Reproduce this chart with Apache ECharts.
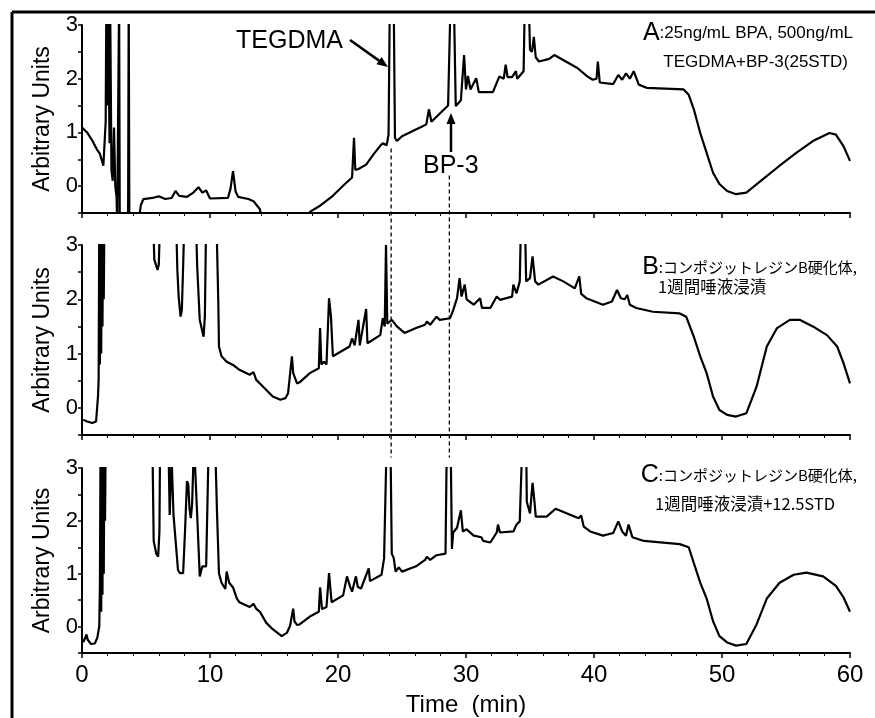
<!DOCTYPE html>
<html lang="ja">
<head>
<meta charset="UTF-8">
<title>Chromatogram</title>
<script src="https://cdn.jsdelivr.net/npm/echarts@6/dist/echarts.min.js"></script>
<style>
    html, body { margin: 0; padding: 0; background: #fff; }
    #chart { width: 875px; height: 718px; }
</style>
</head>
<body>
<div id="chart"></div>
<script>
    // [time (min), signal]
    var traceA = [[0,1.09],[0.4,1.0],[0.8,0.85],[1.15,0.69],[1.4,0.6],[1.67,0.38],[1.8,0.35],[1.85,1.2],[1.9,3.4],[2.0,1.5],[2.05,3.4],[2.15,0.8],[2.2,3.4],[2.3,0.3],[2.4,0.1],[2.5,1.09],[2.6,0.0],[2.7,-0.2],[2.75,-0.7],[2.85,-0.7],[2.9,3.5],[2.95,-0.7],[3.6,-0.7],[3.65,3.5],[3.7,-0.7],[4.4,-0.7],[4.6,-0.35],[4.8,-0.24],[5.5,-0.22],[6.0,-0.19],[6.5,-0.24],[7.0,-0.22],[7.3,-0.09],[7.6,-0.18],[8.2,-0.2],[8.7,-0.12],[9.1,-0.02],[9.4,-0.12],[9.7,-0.08],[10.0,-0.23],[11.4,-0.22],[11.6,-0.05],[11.8,0.28],[12.0,-0.1],[12.2,-0.2],[13.0,-0.24],[13.4,-0.28],[13.9,-0.43],[14.1,-0.7],[17.6,-0.7],[17.8,-0.48],[18.5,-0.38],[19.6,-0.18],[20.5,0.03],[21.1,0.16],[21.25,0.9],[21.35,0.3],[21.6,0.32],[22.2,0.4],[22.8,0.6],[23.3,0.75],[23.5,0.8],[23.8,0.76],[23.95,0.96],[24.05,3.5],[24.35,3.5],[24.45,0.9],[24.6,0.84],[25.0,0.93],[25.8,1.02],[26.5,1.1],[26.9,1.15],[27.1,1.43],[27.3,1.2],[28.3,1.43],[28.6,1.5],[28.8,3.5],[29.05,3.5],[29.2,1.49],[29.6,1.6],[29.85,2.44],[30.0,1.8],[30.15,2.05],[30.35,1.8],[30.8,2.01],[31.0,1.75],[32.1,1.75],[32.6,2.04],[32.95,2.0],[33.1,2.26],[33.25,2.03],[33.6,2.03],[33.9,2.14],[34.0,2.0],[34.5,2.14],[34.6,3.5],[34.9,3.5],[35.0,2.54],[35.15,2.5],[35.3,2.78],[35.45,2.4],[35.7,2.32],[36.5,2.37],[36.9,2.44],[37.8,2.32],[38.7,2.2],[39.5,2.04],[39.9,1.98],[40.2,2.0],[40.3,2.32],[40.45,1.93],[41.5,1.9],[41.9,2.07],[42.2,1.98],[42.5,2.1],[42.8,2.0],[43.1,2.14],[43.5,1.89],[44.1,1.83],[47.0,1.8],[47.4,1.7],[47.8,1.43],[48.3,0.99],[48.8,0.62],[49.3,0.25],[49.8,0.04],[50.4,-0.09],[51.1,-0.15],[51.9,-0.12],[53.2,0.13],[54.5,0.38],[55.8,0.62],[57.1,0.84],[58.4,0.99],[58.9,0.96],[59.5,0.74],[60,0.47]];

    var traceB = [[0.1,-0.22],[0.4,-0.25],[0.8,-0.28],[1.1,-0.25],[1.15,-0.22],[1.25,0.21],[1.3,0.52],[1.35,3.5],[1.4,0.8],[1.45,3.5],[1.5,1.0],[1.55,3.5],[1.6,1.5],[1.65,3.5],[1.7,2.0],[1.75,3.5],[5.55,3.5],[5.65,2.73],[5.9,2.54],[6.0,2.64],[6.1,3.5],[7.35,3.5],[7.45,2.54],[7.55,2.05],[7.7,1.68],[7.8,1.8],[7.9,2.6],[8.0,3.5],[8.9,3.5],[9.0,2.6],[9.2,1.62],[9.5,1.31],[9.6,1.7],[9.7,3.5],[10.5,3.5],[10.65,1.93],[10.7,1.13],[10.9,0.95],[11.3,0.85],[11.8,0.79],[12.3,0.7],[13.1,0.61],[13.4,0.66],[13.6,0.52],[13.9,0.45],[14.4,0.33],[14.9,0.21],[15.5,0.15],[15.9,0.18],[16.1,0.27],[16.4,0.95],[16.5,0.64],[16.8,0.45],[17.0,0.47],[17.8,0.64],[18.5,0.73],[18.6,1.47],[18.7,0.8],[18.9,0.85],[19.1,0.8],[19.3,2.02],[19.45,1.68],[19.6,0.95],[20.9,1.13],[21.1,1.28],[21.3,1.15],[21.6,1.62],[21.7,1.15],[22.2,1.82],[22.3,1.19],[23.3,1.34],[23.5,1.65],[23.65,1.5],[23.75,3.0],[23.85,1.55],[24.2,1.62],[24.6,1.5],[25.2,1.38],[26.1,1.47],[26.8,1.53],[26.95,1.59],[27.2,1.53],[27.7,1.68],[27.95,1.62],[28.75,1.65],[29.0,1.8],[29.3,2.02],[29.5,2.39],[29.65,2.05],[29.9,2.27],[30.05,2.0],[30.6,1.9],[31.1,2.02],[31.25,1.84],[31.9,1.84],[32.4,2.05],[32.65,1.99],[33.6,2.05],[33.7,2.27],[33.95,2.11],[34.2,2.33],[34.3,3.5],[34.6,3.5],[34.7,2.33],[35.0,2.39],[35.2,2.79],[35.4,2.33],[35.65,2.27],[36.8,2.42],[37.6,2.33],[38.5,2.2],[38.85,2.42],[39.0,2.1],[39.4,2.02],[40.7,1.9],[41.4,1.96],[41.8,2.17],[42.1,2.02],[42.4,2.0],[42.6,2.08],[42.8,1.9],[43.3,1.84],[44.6,1.77],[46.7,1.74],[47.2,1.68],[47.8,1.31],[48.3,0.95],[48.8,0.64],[49.3,0.21],[49.8,-0.04],[50.4,-0.13],[51.1,-0.16],[51.9,-0.1],[52.7,0.39],[53.5,1.13],[54.3,1.47],[55.3,1.62],[56.1,1.62],[57.1,1.5],[58.2,1.34],[59.0,1.13],[59.5,0.82],[60,0.45]];

    var traceC = [[0.1,-0.3],[0.35,-0.15],[0.45,-0.25],[0.7,-0.33],[1.0,-0.32],[1.2,-0.21],[1.35,0.01],[1.4,0.8],[1.45,3.5],[1.5,0.28],[1.55,3.5],[1.6,0.6],[1.65,3.5],[1.7,1.0],[1.75,3.5],[1.8,2.0],[1.85,3.5],[5.5,3.5],[5.6,1.62],[5.8,1.38],[5.95,1.32],[6.05,1.8],[6.1,3.5],[6.75,3.5],[6.85,2.11],[7.0,3.2],[7.15,2.11],[7.5,1.07],[7.65,1.01],[7.9,1.01],[8.05,1.81],[8.2,2.75],[8.3,2.7],[8.4,2.23],[8.5,2.05],[8.6,2.3],[8.75,3.5],[8.9,3.5],[9.0,2.1],[9.2,0.95],[9.3,0.93],[9.4,1.14],[9.7,1.14],[9.9,3.5],[10.4,3.5],[10.55,2.14],[10.7,1.01],[10.9,0.83],[11.2,0.71],[11.3,1.04],[11.5,0.83],[11.8,0.74],[12.1,0.53],[12.3,0.46],[13.1,0.37],[13.4,0.43],[13.6,0.34],[13.9,0.28],[14.4,0.07],[14.9,-0.05],[15.6,-0.18],[16.0,-0.12],[16.25,0.01],[16.5,0.34],[16.6,0.1],[16.8,0.03],[17.0,0.04],[17.8,0.19],[18.5,0.28],[18.6,0.74],[18.75,0.33],[19.1,0.37],[19.3,1.01],[19.4,0.98],[19.5,0.46],[20.4,0.59],[20.7,0.95],[20.95,0.75],[21.1,0.66],[21.4,0.95],[21.55,0.75],[21.8,0.72],[22.4,1.1],[22.5,0.86],[23.4,0.98],[23.6,1.29],[23.8,3.5],[24.1,3.5],[24.2,1.38],[24.35,1.3],[24.5,1.04],[24.75,1.12],[25.0,1.04],[26.1,1.14],[26.8,1.26],[26.95,1.32],[27.2,1.26],[27.7,1.35],[28.4,1.38],[28.5,3.5],[28.8,3.5],[28.9,1.47],[29.0,1.78],[29.15,1.75],[29.3,1.87],[29.6,2.2],[29.75,1.8],[30.05,1.84],[30.6,1.72],[31.2,1.69],[31.35,1.62],[31.9,1.59],[32.4,1.78],[32.5,1.93],[32.65,1.78],[33.7,1.8],[33.95,1.93],[34.2,1.99],[34.4,3.5],[34.7,3.5],[34.75,2.36],[35.0,2.14],[35.2,2.72],[35.35,2.36],[35.45,2.08],[36.3,2.08],[37.0,2.23],[37.9,2.14],[38.8,2.05],[39.0,2.1],[39.2,1.89],[39.7,1.8],[40.7,1.72],[41.5,1.77],[41.9,1.99],[42.2,1.8],[42.5,1.72],[42.7,1.93],[43.0,1.69],[43.9,1.62],[46.7,1.56],[47.4,1.5],[47.8,1.2],[48.3,0.83],[48.8,0.53],[49.3,0.1],[49.8,-0.18],[50.4,-0.3],[51.1,-0.36],[51.9,-0.33],[52.7,0.04],[53.5,0.53],[54.5,0.83],[55.6,0.98],[56.6,1.02],[57.9,0.95],[58.9,0.77],[59.5,0.55],[60,0.28]];

    var traces = [traceA, traceB, traceC];
    var yLabels = [0, 1, 2, 3];
    var xLabels = [0, 10, 20, 30, 40, 50, 60];
    var markTimes = [24.15, 28.7];   // TEGDMA, BP-3 retention times

    var FONT = '"Liberation Sans", Arial, sans-serif';
    var JFONT = '"Noto Sans CJK JP", "Liberation Sans", sans-serif';

    var chart = echarts.init(document.getElementById('chart'));

    var gridTops = [25, 245, 468];
    var gridH = [188, 190, 191];

    var grids = [], xAxes = [], yAxes = [], series = [];
    for (var i = 0; i < 3; i++) {
        grids.push({left: 82, right: 25, top: gridTops[i], height: gridH[i]});
        xAxes.push({
            gridIndex: i, type: 'value', min: 0, max: 60, interval: 10,
            axisLine: {onZero: false, lineStyle: {color: '#000', width: 2}},
            axisTick: {length: 5, lineStyle: {color: '#000', width: 1.5}},
            minorTick: {show: true, splitNumber: 5, length: 3, lineStyle: {color: '#000', width: 1}},
            splitLine: {show: false},
            axisLabel: {
                show: i === 2, color: '#000', fontSize: 24, fontFamily: FONT, margin: 10,
                formatter: function (v) { return xLabels.indexOf(v) >= 0 ? String(v) : ''; }
            },
            name: i === 2 ? 'Time  (min)' : '',
            nameLocation: 'middle', nameGap: 40,
            nameTextStyle: {color: '#000', fontSize: 24, fontFamily: FONT}
        });
        yAxes.push({
            gridIndex: i, type: 'value', min: -0.5, max: 3, interval: 0.5,
            axisLine: {show: true, onZero: false, lineStyle: {color: '#000', width: 2}},
            axisTick: {show: true, length: 4, lineStyle: {color: '#000', width: 1.5}},
            splitLine: {show: false},
            axisLabel: {
                color: '#000', fontSize: 22, fontFamily: FONT, margin: 4,
                formatter: function (v) { return yLabels.indexOf(v) >= 0 ? String(v) : ''; }
            },
            name: 'Arbitrary Units', nameLocation: 'middle', nameGap: 28,
            nameTextStyle: {color: '#000', fontSize: 23, fontFamily: FONT}
        });
        series.push({
            type: 'line', xAxisIndex: i, yAxisIndex: i, data: traces[i],
            symbol: 'none', clip: true, animation: false,
            lineStyle: {color: '#000', width: 2.2}
        });
    }

    chart.setOption({
        animation: false,
        backgroundColor: '#fff',
        grid: grids, xAxis: xAxes, yAxis: yAxes, series: series
    });

    function arrow(x1, y1, x2, y2) {
        var dx = x2 - x1, dy = y2 - y1, len = Math.sqrt(dx * dx + dy * dy);
        var ux = dx / len, uy = dy / len, hl = 11, hw = 4.5;
        var bx = x2 - ux * hl, by = y2 - uy * hl;
        return [
            {type: 'line', shape: {x1: x1, y1: y1, x2: bx, y2: by}, style: {stroke: '#000', lineWidth: 2.5}},
            {type: 'polygon', shape: {points: [[x2, y2], [bx - uy * hw, by + ux * hw], [bx + uy * hw, by - ux * hw]]}, style: {fill: '#000'}}
        ];
    }

    var g = [];
    // frame
    g.push({type: 'line', shape: {x1: 12, y1: 12, x2: 875, y2: 12}, style: {stroke: '#000', lineWidth: 3}});
    g.push({type: 'line', shape: {x1: 12, y1: 12, x2: 12, y2: 718}, style: {stroke: '#000', lineWidth: 3}});

    // dashed retention lines
    var dashTop = [0.7, 0.2];
    markTimes.forEach(function (t, k) {
        var p1 = chart.convertToPixel({gridIndex: 0}, [t, dashTop[k]]);
        var p2 = chart.convertToPixel({gridIndex: 2}, [t, 3.2]);
        g.push({type: 'line', shape: {x1: p1[0], y1: p1[1], x2: p2[0], y2: p2[1]},
            style: {stroke: '#000', lineWidth: 1.3, lineDash: [4, 3]}});
    });

    // compound labels
    g.push({type: 'text', style: {text: 'TEGDMA', x: 236, y: 41, font: '25px ' + FONT, fill: '#000', verticalAlign: 'middle'}});
    g = g.concat(arrow(350, 40, 388, 67));
    g.push({type: 'text', style: {text: 'BP-3', x: 423, y: 166, font: '25px ' + FONT, fill: '#000', verticalAlign: 'middle'}});
    g = g.concat(arrow(451, 152, 451, 113));

    // panel captions
    var rich = {
        big: {fontSize: 25, fontFamily: FONT, fill: '#000'},
        sm: {fontSize: 17, fontFamily: FONT, fill: '#000'},
        jp: {fontSize: 15, fontFamily: JFONT, fill: '#000'}
    };
    g.push({type: 'text', style: {text: '{big|A}{sm|:25ng/mL BPA, 500ng/mL}', rich: rich, x: 853, y: 33, align: 'right', verticalAlign: 'middle'}});
    g.push({type: 'text', style: {text: 'TEGDMA+BP-3(25STD)', x: 848, y: 62, font: '17px ' + FONT, fill: '#000', align: 'right', verticalAlign: 'middle'}});
    g.push({type: 'text', style: {text: '{big|B}{jp|:コンポジットレジンB硬化体,}', rich: rich, x: 857, y: 267, align: 'right', verticalAlign: 'middle'}});
    g.push({type: 'text', style: {text: '1週間唾液浸漬', x: 658, y: 287, font: '16.5px ' + JFONT, fill: '#000', verticalAlign: 'middle'}});
    g.push({type: 'text', style: {text: '{big|C}{jp|:コンポジットレジンB硬化体,}', rich: rich, x: 857, y: 475, align: 'right', verticalAlign: 'middle'}});
    g.push({type: 'text', style: {text: '1週間唾液浸漬+12.5STD', x: 655, y: 504, font: '16.5px ' + JFONT, fill: '#000', verticalAlign: 'middle'}});

    chart.setOption({graphic: g});
</script>
</body>
</html>
